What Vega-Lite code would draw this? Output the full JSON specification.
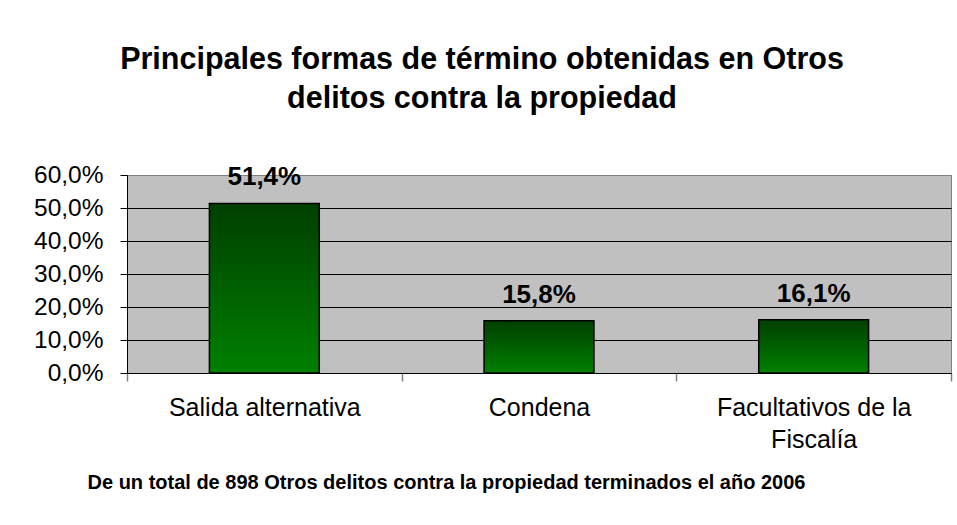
{
  "$schema": "https://vega.github.io/schema/vega-lite/v6.json",
  "width": 824,
  "height": 198,
  "autosize": "none",
  "padding": {"left": 127, "top": 175, "right": 6, "bottom": 152},
  "background": "white",
  "title": {
    "text": ["Principales formas de término obtenidas en Otros", "delitos contra la propiedad"],
    "font": "Liberation Sans",
    "fontSize": 30.5,
    "fontWeight": "bold",
    "lineHeight": 39,
    "color": "black",
    "anchor": "middle",
    "frame": "group",
    "dx": -57,
    "offset": 48
  },
  "data": {
    "values": [
      {"forma": "Salida alternativa", "pct": 51.4, "etiqueta": "51,4%"},
      {"forma": "Condena", "pct": 15.8, "etiqueta": "15,8%"},
      {"forma": "Facultativos de la Fiscalía", "pct": 16.1, "etiqueta": "16,1%"}
    ]
  },
  "encoding": {
    "x": {
      "field": "forma",
      "type": "nominal",
      "sort": null,
      "scale": {"paddingInner": 0, "paddingOuter": 0},
      "axis": {
        "title": "De un total de 898 Otros delitos contra la propiedad terminados el año 2006",
        "titleFont": "Liberation Sans",
        "titleFontSize": 20,
        "titleFontWeight": "bold",
        "titleColor": "black",
        "titlePadding": 20,
        "titleX": 319,
        "labelAngle": 0,
        "labelFont": "Liberation Sans",
        "labelFontSize": 25,
        "labelColor": "black",
        "labelPadding": 14,
        "labelLineHeight": 32,
        "labelLimit": 0,
        "labelExpr": "datum.label == 'Facultativos de la Fiscalía' ? ['Facultativos de la', 'Fiscalía'] : datum.label",
        "ticks": true,
        "tickBand": "extent",
        "tickSize": 8,
        "tickWidth": 1.5,
        "tickColor": "#808080",
        "domainColor": "black",
        "grid": false
      }
    },
    "y": {
      "field": "pct",
      "type": "quantitative",
      "scale": {"domain": [0, 60], "nice": false},
      "axis": {
        "title": null,
        "values": [0, 10, 20, 30, 40, 50, 60],
        "labelExpr": "replace(format(datum.value, '.1f'), '.', ',') + '%'",
        "labelFont": "Liberation Sans",
        "labelFontSize": 24.5,
        "labelColor": "black",
        "labelPadding": 17,
        "tickSize": 7,
        "tickColor": "black",
        "domainColor": "black",
        "grid": true,
        "gridColor": {"condition": {"test": "datum.value == 60", "value": "#808080"}, "value": "black"},
        "gridOpacity": 1,
        "gridWidth": 1
      }
    }
  },
  "layer": [
    {
      "mark": {
        "type": "bar",
        "width": {"band": 0.4},
        "stroke": "black",
        "strokeWidth": 1.5,
        "color": {
          "gradient": "linear",
          "x1": 0, "y1": 0, "x2": 0, "y2": 1,
          "stops": [
            {"offset": 0, "color": "#003f00"},
            {"offset": 1, "color": "#008000"}
          ]
        }
      }
    },
    {
      "mark": {
        "type": "text",
        "font": "Liberation Sans",
        "fontSize": 26,
        "fontWeight": "bold",
        "color": "black",
        "baseline": "alphabetic",
        "dy": -18
      },
      "encoding": {"text": {"field": "etiqueta"}}
    }
  ],
  "config": {
    "view": {"fill": "#c0c0c0", "stroke": "#808080", "strokeWidth": 1}
  }
}
